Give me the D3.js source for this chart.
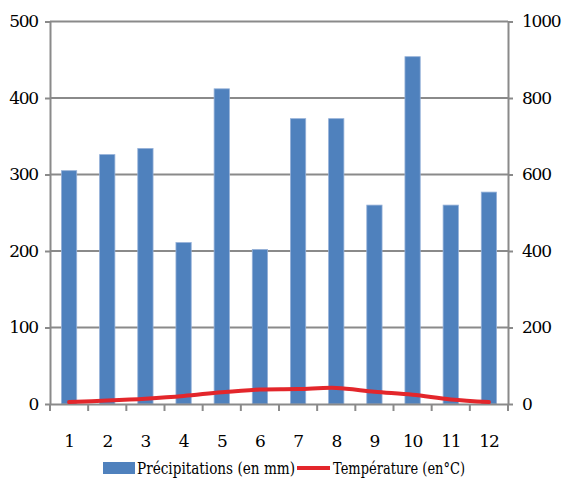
<!DOCTYPE html>
<html>
<head>
<meta charset="utf-8">
<script src="https://cdn.jsdelivr.net/npm/d3@7"></script>
<style>
  body { margin: 0; background: #fff; }
</style>
</head>
<body>
<div id="chart"></div>
<script>
// data
var months = ["1", "2", "3", "4", "5", "6", "7", "8", "9", "10", "11", "12"];
var precip = [305, 326, 334, 211, 412, 202, 373, 373, 260, 454, 260, 277];
var temp = [5, 9, 14, 21, 31, 38, 39, 42, 32, 24, 12, 5];
var leftTicks = [0, 100, 200, 300, 400, 500];
var rightTicks = [0, 200, 400, 600, 800, 1000];

var width = 563,
    height = 479,
    margin = { top: 21.5, right: 55, bottom: 75, left: 50 };

var serif = "'DejaVu Serif', 'Liberation Serif', serif";

var svg = d3.select("#chart")
    .append("svg")
    .attr("width", width)
    .attr("height", height);

var x = d3.scaleBand()
    .domain(months)
    .range([margin.left, width - margin.right])
    .padding(0);

var y = d3.scaleLinear()
    .domain([0, 500])
    .range([height - margin.bottom, margin.top]);

var y2 = d3.scaleLinear()
    .domain([0, 1000])
    .range([height - margin.bottom, margin.top]);

var gray = "#8a8a8a";

// gridlines
svg.append("g")
    .selectAll("line")
    .data(leftTicks.slice(1))
    .enter()
    .append("line")
    .attr("x1", margin.left)
    .attr("x2", width - margin.right)
    .attr("y1", function (d) { return y(d); })
    .attr("y2", function (d) { return y(d); })
    .attr("stroke", gray)
    .attr("stroke-width", 2);

// bars
var barW = x.bandwidth() * 0.4;
svg.append("g")
    .selectAll("rect")
    .data(months)
    .enter()
    .append("rect")
    .attr("x", function (d) { return x(d) + (x.bandwidth() - barW) / 2; })
    .attr("y", function (d, i) { return y(precip[i]); })
    .attr("width", barW)
    .attr("height", function (d, i) { return y(0) - y(precip[i]); })
    .attr("fill", "#4f81bd")
    .attr("stroke", "#94b0d8")
    .attr("stroke-width", 0.8);

// left axis
var axL = svg.append("g")
    .attr("transform", "translate(" + margin.left + ",0)")
    .call(d3.axisLeft(y).tickValues(leftTicks).tickSize(5).tickPadding(7).tickSizeOuter(0));

// right axis
var axR = svg.append("g")
    .attr("transform", "translate(" + (width - margin.right) + ",0)")
    .call(d3.axisRight(y2).tickValues(rightTicks).tickFormat(d3.format("d"))
        .tickSize(5).tickPadding(9).tickSizeOuter(0));

// bottom axis, ticks between categories
var axB = svg.append("g")
    .attr("transform", "translate(0," + y(0) + ")")
    .call(d3.axisBottom(x).tickSize(0).tickPadding(31));

svg.append("g")
    .selectAll("line")
    .data(months.concat(["end"]))
    .enter()
    .append("line")
    .attr("x1", function (d) { return d === "end" ? x.range()[1] : x(d); })
    .attr("x2", function (d) { return d === "end" ? x.range()[1] : x(d); })
    .attr("y1", y(0))
    .attr("y2", y(0) + 7)
    .attr("stroke", gray)
    .attr("stroke-width", 2);

[axL, axR, axB].forEach(function (g) {
    g.attr("font-family", serif).attr("font-size", 17);
    g.selectAll(".domain").attr("stroke", gray).attr("stroke-width", 2);
    g.selectAll(".tick line").attr("stroke", gray).attr("stroke-width", 2);
    g.selectAll("text")
        .attr("font-family", serif)
        .attr("letter-spacing", "-1.2")
        .attr("fill", "#000");
});

// temperature line
var line = d3.line()
    .x(function (d, i) { return x(months[i]) + x.bandwidth() / 2; })
    .y(function (d) { return y2(d); })
    .curve(d3.curveCatmullRom.alpha(0.5));

svg.append("path")
    .datum(temp)
    .attr("d", line)
    .attr("fill", "none")
    .attr("stroke", "#e3262b")
    .attr("stroke-width", 4)
    .attr("stroke-linecap", "round");

// legend
var leg = svg.append("g")
    .attr("font-family", serif)
    .attr("font-size", 17);
leg.append("rect")
    .attr("x", 103)
    .attr("y", 462)
    .attr("width", 32)
    .attr("height", 12)
    .attr("fill", "#4f81bd");
leg.append("text")
    .attr("x", 137)
    .attr("y", 474)
    .attr("textLength", 158)
    .attr("lengthAdjust", "spacingAndGlyphs")
    .text("Précipitations (en mm)");
leg.append("line")
    .attr("x1", 297)
    .attr("x2", 330)
    .attr("y1", 468)
    .attr("y2", 468)
    .attr("stroke", "#e3262b")
    .attr("stroke-width", 4);
leg.append("text")
    .attr("x", 333)
    .attr("y", 474)
    .attr("textLength", 132)
    .attr("lengthAdjust", "spacingAndGlyphs")
    .text("Température (en°C)");
</script>
</body>
</html>
